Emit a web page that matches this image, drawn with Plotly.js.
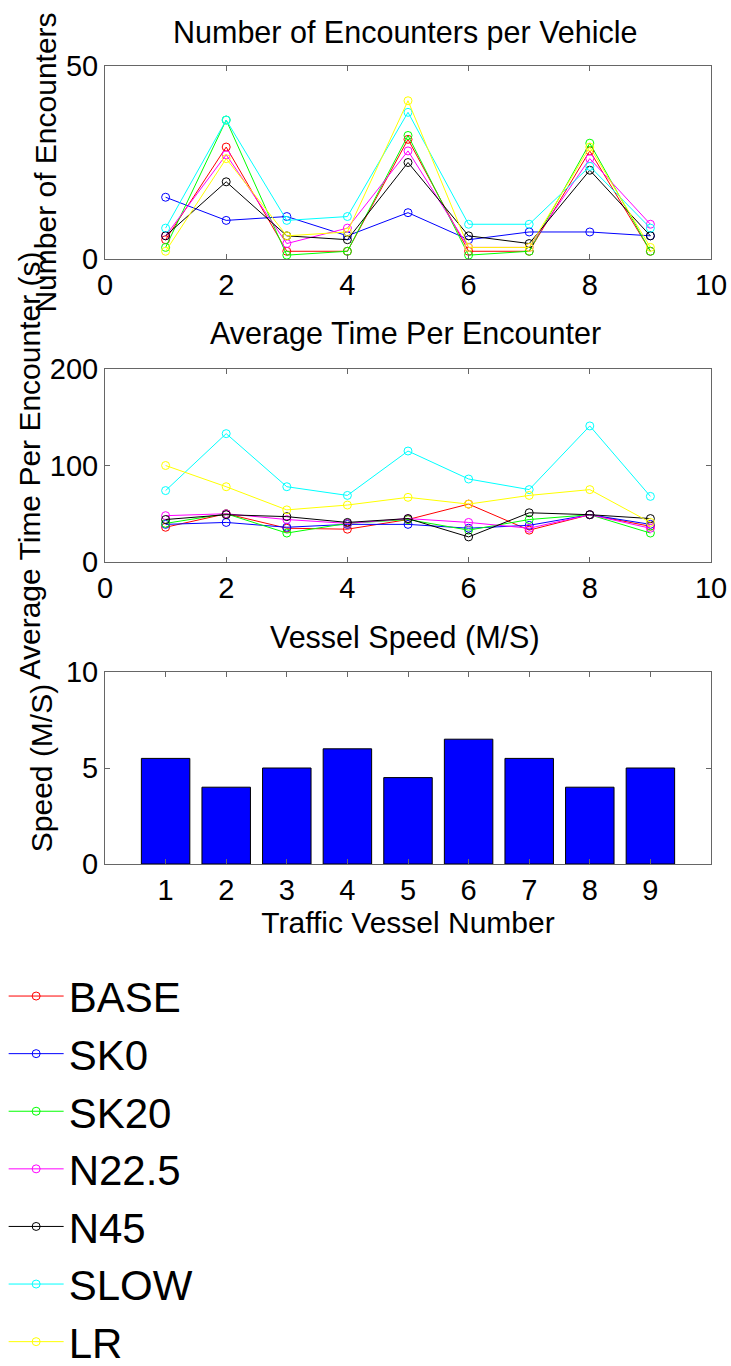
<!DOCTYPE html>
<html>
<head>
<meta charset="utf-8">
<script src="https://cdn.plot.ly/plotly-3.0.1.min.js"></script>
<style>html,body{margin:0;padding:0;background:#fff;}#chart{width:731px;height:1366px;}</style>
</head>
<body>
<div id="chart"></div>
<script>
// ---- data ----
const vessels = [1, 2, 3, 4, 5, 6, 7, 8, 9];
const seriesNames = ["BASE", "SK0", "SK20", "N22.5", "N45", "SLOW", "LR"];
const seriesColors = ["#ff0000", "#0000ff", "#00ff00", "#ff00ff", "#000000", "#00ffff", "#ffff00"];

// Number of encounters per vehicle
const encBASE = [5, 29, 2, 2, 31, 2, 2, 28, 2];
const encSK0  = [16, 10, 11, 6, 12, 5, 7, 7, 6];
const encSK20 = [3, 36, 1, 2, 32, 1, 2, 30, 2];
const encN225 = [6, 27, 4, 8, 28, 3, 3, 26, 9];
const encN45  = [6, 20, 6, 5, 25, 6, 4, 23, 6];
const encSLOW = [8, 36, 10, 11, 38, 9, 9, 24, 8];
const encLR   = [2, 26, 6, 7, 41, 3, 3, 29, 3];

// Average time per encounter (s)
const timeBASE = [36, 50, 35, 34, 44, 60, 33, 49, 37];
const timeSK0  = [39, 41, 36, 39, 39, 35, 38, 49, 39];
const timeSK20 = [40, 50, 30, 40, 44, 33, 44, 49, 30];
const timeN225 = [48, 50, 44, 40, 45, 41, 35, 49, 35];
const timeN45  = [44, 49, 47, 41, 45, 26, 51, 49, 45];
const timeSLOW = [74, 133, 78, 69, 115, 86, 75, 141, 68];
const timeLR   = [100, 78, 54, 59, 67, 60, 69, 75, 41];

// Vessel speed (M/S)
const speeds = [5.5, 4, 5, 6, 4.5, 6.5, 5.5, 4, 5];

const titles = ["Number of Encounters per Vehicle", "Average Time Per Encounter", "Vessel Speed (M/S)"];
const yTitles = ["Number of Encounters", "Average Time Per Encounter (s)", "Speed (M/S)"];
const xTitle3 = "Traffic Vessel Number";

const encData = [encBASE, encSK0, encSK20, encN225, encN45, encSLOW, encLR];
const timeData = [timeBASE, timeSK0, timeSK20, timeN225, timeN45, timeSLOW, timeLR];

// ---- traces ----
const FONT = "Liberation Sans, Arial, Helvetica, sans-serif";
const traces = [];
seriesNames.forEach((name, i) => {
  traces.push({
    type: "scatter", mode: "lines+markers", name: name, legendgroup: name,
    x: vessels, y: encData[i], xaxis: "x", yaxis: "y",
    line: {color: seriesColors[i], width: 1},
    marker: {symbol: "circle-open", size: 8, color: seriesColors[i], line: {width: 1}},
    showlegend: true
  });
});
seriesNames.forEach((name, i) => {
  traces.push({
    type: "scatter", mode: "lines+markers", name: name, legendgroup: name,
    x: vessels, y: timeData[i], xaxis: "x2", yaxis: "y2",
    line: {color: seriesColors[i], width: 1},
    marker: {symbol: "circle-open", size: 8, color: seriesColors[i], line: {width: 1}},
    showlegend: false
  });
});
traces.push({
  type: "bar", x: vessels, y: speeds, xaxis: "x3", yaxis: "y3", width: 0.8,
  marker: {color: "#0000ff", line: {color: "#000000", width: 1}},
  showlegend: false, name: "Speed"
});

// ---- layout ----
const W = 731, H = 1366;
const xDom = [105 / W, 711 / W];
function yDom(top, bottom) { return [1 - bottom / H, 1 - top / H]; }
const axBase = {
  showline: true, linecolor: "#666666", linewidth: 1, mirror: "ticks",
  ticks: "inside", ticklen: 5, tickcolor: "#666666", showgrid: false, zeroline: false,
  tickfont: {family: FONT, size: 29, color: "#000"}, automargin: false
};

const layout = {
  width: W, height: H,
  margin: {l: 0, r: 0, t: 0, b: 0, autoexpand: false},
  paper_bgcolor: "#ffffff", plot_bgcolor: "#ffffff",
  font: {family: FONT, color: "#000"},
  showlegend: true,
  legend: {
    x: 0.005, y: -0.0075, xanchor: "left", yanchor: "bottom",
    font: {family: FONT, size: 42, color: "#000"},
    bgcolor: "rgba(0,0,0,0)", borderwidth: 0, itemwidth: 55,
    tracegroupgap: 0
  },
  xaxis: Object.assign({}, axBase, {domain: xDom, anchor: "y", range: [0, 10], tickvals: [0, 2, 4, 6, 8, 10]}),
  yaxis: Object.assign({}, axBase, {domain: yDom(66, 259), anchor: "x", range: [0, 50], tickvals: [0, 50],
    title: {text: yTitles[0], font: {family: FONT, size: 30}, standoff: 0}}),
  xaxis2: Object.assign({}, axBase, {domain: xDom, anchor: "y2", range: [0, 10], tickvals: [0, 2, 4, 6, 8, 10]}),
  yaxis2: Object.assign({}, axBase, {domain: yDom(369, 562), anchor: "x2", range: [0, 200], tickvals: [0, 100, 200],
    title: {text: yTitles[1], font: {family: FONT, size: 30}, standoff: 0}}),
  xaxis3: Object.assign({}, axBase, {domain: xDom, anchor: "y3", range: [0, 10], tickvals: vessels,
    title: {text: xTitle3, font: {family: FONT, size: 30}, standoff: 7}}),
  yaxis3: Object.assign({}, axBase, {domain: yDom(672, 864), anchor: "x3", range: [0, 10], tickvals: [0, 5, 10],
    title: {text: yTitles[2], font: {family: FONT, size: 30}, standoff: 4}}),
  annotations: [
    {text: titles[0], x: 405 / W, y: 1 - 32 / H},
    {text: titles[1], x: 405 / W, y: 1 - 333 / H},
    {text: titles[2], x: 405 / W, y: 1 - 637 / H}
  ].map(a => Object.assign(a, {xref: "paper", yref: "paper", xanchor: "center", yanchor: "middle",
    showarrow: false, font: {family: FONT, size: 30.5, color: "#000"}}))
};

Plotly.newPlot("chart", traces, layout, {displayModeBar: false, staticPlot: true});
</script>
</body>
</html>
